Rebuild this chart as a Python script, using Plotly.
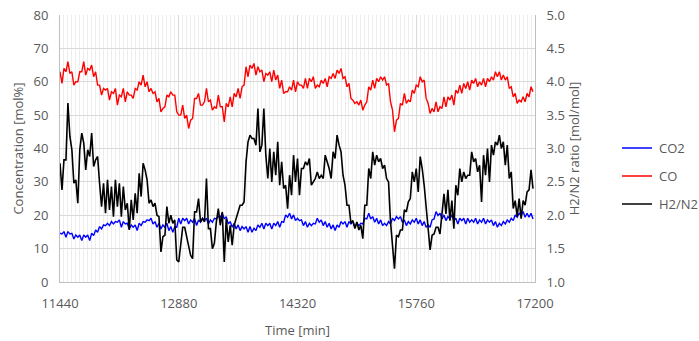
import plotly.graph_objects as go

# Sampling of the logged data (minutes)
t_start = 11440
t_step = 24

# CO2 concentration [mol%]
co2 = [
    14.6, 14.4, 15.1, 13.4, 15.1, 14.4, 14.6, 12.9, 14.1, 13.4, 14.1, 12.4, 14.1, 13.4, 14.1, 12.4, 14.6, 13.9, 15.6, 14.9,
    16.6, 15.9, 17.1, 16.9, 17.6, 16.9, 18.1, 17.4, 18.1, 17.9, 18.6, 16.4, 18.1, 17.4, 17.6, 15.9, 17.1, 16.4, 17.1, 15.4,
    17.6, 16.9, 18.1, 17.9, 18.6, 18.4, 19.1, 17.4, 18.1, 16.4, 17.6, 15.9, 17.1, 16.4, 17.6, 15.4, 16.6, 14.9, 16.6, 16.4,
    19.1, 17.4, 19.1, 18.4, 19.1, 17.4, 18.6, 17.9, 19.1, 16.9, 18.6, 17.9, 19.1, 18.4, 19.1, 17.4, 18.6, 17.9, 19.1, 18.9,
    19.6, 19.4, 20.6, 18.9, 19.6, 17.4, 18.1, 16.4, 17.6, 15.9, 17.1, 15.4, 16.6, 15.9, 16.6, 14.9, 16.6, 14.9, 16.1, 15.4,
    17.1, 16.4, 17.6, 15.9, 17.6, 16.9, 17.6, 15.9, 17.6, 16.9, 18.1, 16.4, 18.1, 17.9, 20.1, 19.4, 20.6, 18.9, 20.1, 18.4,
    19.1, 18.4, 18.6, 16.9, 18.1, 16.4, 17.6, 16.9, 17.6, 17.4, 19.1, 17.9, 18.6, 16.9, 18.1, 16.4, 17.6, 15.9, 17.1, 15.4,
    17.1, 16.4, 18.1, 17.4, 18.1, 16.4, 18.1, 17.4, 18.1, 16.4, 17.6, 16.9, 17.6, 17.4, 19.1, 18.9, 20.6, 18.9, 19.6, 17.9,
    19.1, 17.4, 18.6, 16.9, 17.6, 16.9, 18.1, 17.4, 19.1, 18.4, 19.6, 18.9, 19.6, 17.9, 18.6, 16.9, 18.1, 17.4, 18.6, 17.9,
    19.1, 17.4, 18.6, 16.9, 18.1, 16.4, 17.1, 16.4, 18.6, 18.9, 21.1, 19.9, 20.6, 18.9, 20.1, 18.4, 19.6, 18.9, 20.1, 18.4,
    19.1, 17.4, 19.1, 18.4, 19.1, 17.4, 19.1, 17.9, 18.6, 17.9, 19.1, 17.4, 18.6, 17.9, 19.1, 17.4, 18.6, 17.9, 18.6, 16.9,
    18.1, 16.4, 17.6, 16.9, 18.1, 17.4, 18.6, 17.9, 19.1, 18.4, 20.1, 19.4, 20.6, 19.9, 21.1, 19.4, 20.6, 19.4, 20.6, 18.9,
]

# CO concentration [mol%]
co = [
    63, 59.5, 64, 63, 66, 62.5, 63, 59, 60, 60, 63, 63, 66, 62, 64, 63.5, 65, 61.5, 63, 59,
    59, 56, 58, 57.5, 58, 54.5, 57, 56.5, 58, 53, 56, 55.5, 58, 54, 57, 56, 56, 55, 58, 57.5,
    60, 59, 62, 58.5, 60, 57, 58, 56.5, 57, 54, 55, 51, 52, 52.5, 56, 55.5, 57, 56, 56, 51,
    50, 50, 53, 49, 50, 46, 48.5, 49, 55, 55, 56.5, 53, 53, 54, 58, 54, 54.5, 51.5, 52.5, 52,
    56, 52.5, 52.5, 48, 53.5, 52.5, 55.5, 52.5, 56.5, 55.5, 58, 55, 58.5, 59, 64.5, 61.5, 65, 64, 65.5, 62,
    64.5, 63, 63.5, 60, 62.5, 62, 63, 60, 63.5, 60.5, 62, 58, 60.5, 56.5, 57, 57, 58.5, 57.5, 60.5, 57,
    60, 59, 59, 58, 61, 58, 61, 60, 61.5, 58, 59, 58.5, 60.5, 59.5, 61, 58.5, 61.5, 61, 62.5, 61,
    63.5, 62.5, 64, 61, 61.5, 58.5, 59.5, 55, 54.5, 53.5, 54, 53, 54.5, 51.5, 53, 54, 58.5, 57.5, 60.5, 58,
    61, 60, 61.5, 60.5, 61.5, 59, 59.5, 54, 51.5, 45, 48.5, 49, 53.5, 53, 56.5, 53.5, 54.5, 54, 57.5, 56.5,
    59, 58.5, 61.5, 60, 60.5, 55, 53.5, 50.5, 52, 51, 54, 51, 52.5, 52, 55.5, 52.5, 55.5, 54.5, 56, 53,
    57.5, 56.5, 59, 56.5, 59.5, 58, 60, 57.5, 60.5, 59.5, 61, 58.5, 60, 59, 61, 58.5, 61, 60, 61.5, 60.5,
    63, 61.5, 63, 60.5, 62, 60.5, 61.5, 58, 58.5, 55.5, 56.5, 53.5, 54.5, 54, 55.5, 54, 56.5, 55.5, 58.5, 57,
]

# H2/N2 molar ratio [mol/mol]
h2n2 = [
    2.78, 2.38, 2.83, 2.83, 3.68, 3.18, 2.98, 2.48, 2.53, 2.18,
    2.98, 3.23, 3.08, 2.68, 2.98, 2.88, 3.23, 2.73, 2.83, 2.88,
    2.48, 2.13, 2.48, 2.03, 2.53, 2.08, 2.43, 1.98, 2.53, 2.13,
    2.48, 1.98, 2.43, 2.08, 2.18, 1.78, 2.23, 1.93, 2.33, 2.03,
    2.63, 2.28, 2.78, 2.68, 2.53, 2.18, 2.23, 2.13, 2.18, 2.00,
    1.98, 1.45, 1.68, 1.70, 2.13, 1.88, 2.00, 1.88, 1.93, 1.33,
    1.30, 1.52, 1.82, 1.82, 1.68, 1.52, 1.40, 1.35, 2.05, 2.05,
    2.25, 1.90, 1.95, 1.90, 2.55, 1.80, 1.80, 1.50, 1.58, 1.90,
    2.10, 1.85, 2.05, 1.30, 1.95, 1.60, 1.85, 1.55, 1.85, 1.95,
    2.05, 2.15, 2.15, 2.20, 2.80, 3.10, 3.20, 3.15, 3.15, 3.05,
    3.60, 2.95, 3.05, 3.60, 2.90, 2.55, 3.00, 2.50, 2.95, 2.60,
    3.10, 2.45, 2.80, 2.40, 2.45, 2.10, 2.60, 2.30, 2.90, 2.50,
    2.85, 2.30, 2.70, 2.70, 2.80, 2.75, 2.85, 2.45, 2.50, 2.55,
    2.65, 2.55, 2.60, 2.55, 2.90, 2.80, 2.70, 2.55, 2.95, 2.85,
    3.20, 3.05, 2.95, 2.60, 2.45, 2.15, 2.15, 1.88, 1.92, 1.80,
    1.90, 1.78, 1.85, 1.65, 2.15, 2.15, 2.70, 2.55, 2.95, 2.75,
    2.90, 2.80, 2.85, 2.70, 2.75, 2.55, 2.50, 1.90, 1.60, 1.20,
    1.70, 1.68, 1.78, 1.78, 2.08, 2.05, 2.20, 2.25, 2.65, 2.50,
    2.70, 2.35, 2.88, 2.70, 2.45, 2.08, 1.85, 1.48, 1.70, 1.72,
    1.82, 1.82, 1.72, 1.98, 2.32, 2.02, 2.38, 1.92, 2.22, 1.80,
    2.45, 2.30, 2.70, 2.50, 2.65, 2.55, 2.60, 2.60, 2.95, 2.80,
    2.85, 2.65, 2.75, 2.20, 2.90, 2.60, 3.00, 2.50, 3.05, 2.90,
    3.10, 3.05, 3.20, 3.00, 3.10, 2.75, 3.05, 2.55, 2.65, 2.10,
    2.22, 1.98, 2.25, 1.95, 2.22, 2.15, 2.35, 2.38, 2.68, 2.40,
]

x_ticks = [11440, 12880, 14320, 15760, 17200]

series_names = ["CO2", "CO", "H2/N2"]
series_colors = ["#0000ff", "#ff0000", "#000000"]


def times(values):
    return [t_start + t_step * i for i in range(len(values))]


TXT = "#595959"
FONT = dict(family="Open Sans", size=13, color=TXT)

fig = go.Figure()
fig.add_trace(go.Scatter(x=times(co2), y=co2, name=series_names[0], mode="lines",
                         line=dict(color=series_colors[0], width=1.4)))
fig.add_trace(go.Scatter(x=times(co), y=co, name=series_names[1], mode="lines",
                         line=dict(color=series_colors[1], width=1.4)))
fig.add_trace(go.Scatter(x=times(h2n2), y=h2n2, name=series_names[2], mode="lines",
                         line=dict(color=series_colors[2], width=1.6), yaxis="y2"))

# Legend to the right of the plot area, drawn with shapes and text
# (plot area spans 475 x 267 px starting at (60, 15))
PW, PH, L, T = 475.0, 267.0, 60.0, 15.0


def px_x(px):
    return (px - L) / PW


def px_y(py):
    return 1 - (py - T) / PH


for k, (name, color) in enumerate(zip(series_names, series_colors)):
    yy = px_y(148 + 28 * k)
    fig.add_shape(type="line", xref="paper", yref="paper",
                  x0=px_x(622), x1=px_x(652), y0=yy, y1=yy,
                  line=dict(color=color, width=1.5))
    fig.add_annotation(xref="paper", yref="paper", x=px_x(657), y=yy,
                       xanchor="left", yanchor="middle", text=name,
                       showarrow=False, font=FONT)

fig.update_layout(
    width=699, height=341,
    margin=dict(l=60, r=164, t=15, b=59),
    paper_bgcolor="white", plot_bgcolor="white",
    font=FONT,
    showlegend=False,
    xaxis=dict(
        range=[11440, 17200], tickmode="array", tickvals=x_ticks,
        ticktext=[str(v) for v in x_ticks],
        showgrid=True, gridcolor="#d9d9d9", gridwidth=1,
        minor=dict(dtick=48, tick0=11440, showgrid=True, gridcolor="#ededed", gridwidth=1),
        showline=True, linecolor="#bfbfbf", linewidth=1,
        ticks="", ticklabelstandoff=9, zeroline=False, automargin=False,
        title=dict(text="Time [min]", font=FONT, standoff=15),
    ),
    yaxis=dict(
        range=[0, 80], dtick=10, tick0=0,
        showgrid=True, gridcolor="#d9d9d9", gridwidth=1,
        showline=True, linecolor="#bfbfbf", linewidth=1,
        ticks="", ticklabelstandoff=8, zeroline=False, automargin=False,
        title=dict(text="Concentration [mol%]", font=FONT, standoff=6),
    ),
    yaxis2=dict(
        range=[1.0, 5.0], dtick=0.5, tick0=1.0, tickformat=".1f",
        overlaying="y", side="right", showgrid=False,
        showline=True, linecolor="#bfbfbf", linewidth=1,
        ticks="", ticklabelstandoff=8, zeroline=False, automargin=False,
        title=dict(text="H2/N2 ratio [mol/mol]", font=FONT, standoff=6),
    ),
)

fig.write_html("out.html")
